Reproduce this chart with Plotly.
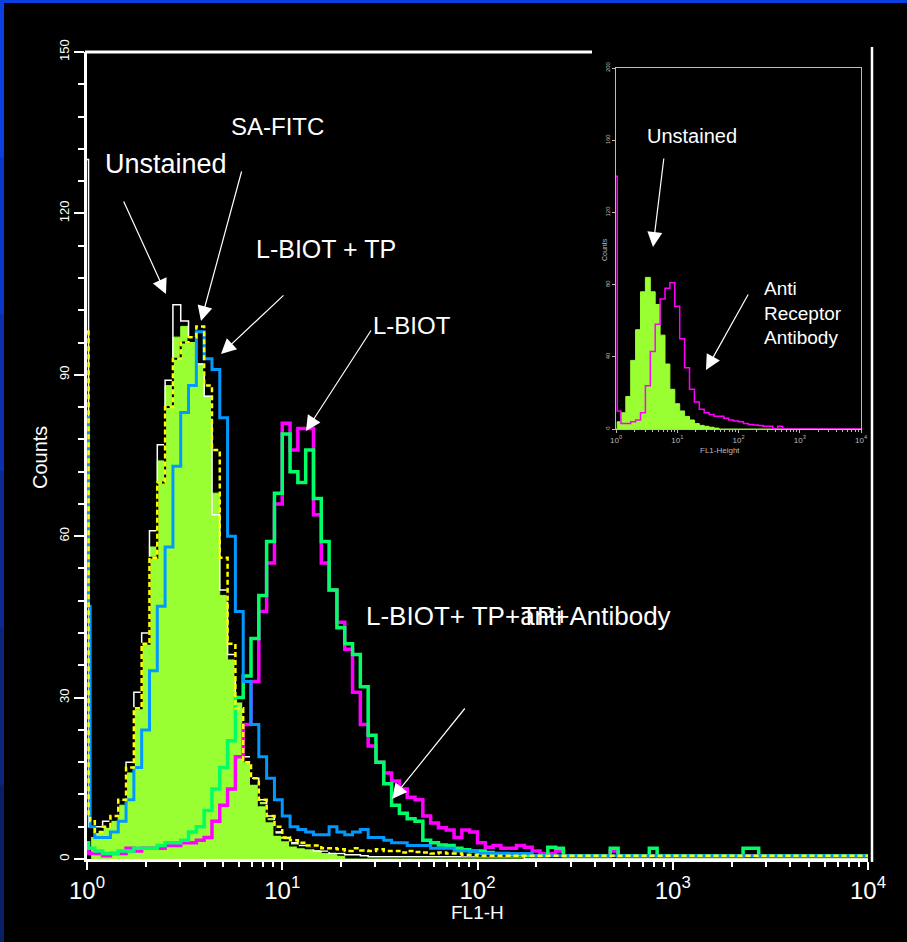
import plotly.graph_objects as go

# ---------------- DATA ----------------
# Main histogram channels, in log10(FL1-H): two narrow first channels, then 0.04-decade bins
MAIN_LOG_EDGES = [0.0, 0.008, 0.016] + [round(0.04 * k, 2) for k in range(1, 101)]

unstained = [0, 0,
    4, 5, 6, 7, 10, 16, 28, 40, 58, 74, 88, 97, 99, 96, 92, 86, 68, 49, 37, 29,
    18, 14, 10.5, 7.5, 5, 4, 3, 2.5, 2, 1.5, 1, 0.8, 0.5, 0, 0, 0, 0, 0, 0, 0,
    0, 0, 0, 0, 0, 0, 0, 0, 0, 0, 0, 0, 0, 0, 0, 0, 0, 0, 0, 0,
    0, 0, 0, 0, 0, 0, 0, 0, 0, 0, 0, 0, 0, 0, 0, 0, 0, 0, 0, 0,
    0, 0, 0, 0, 0, 0, 0, 0, 0, 0, 0, 0, 0, 0, 0, 0, 0, 0, 0, 0]

unstained_outline = [130, 6,
    6, 6, 7, 8, 11, 18, 31, 42, 61, 77, 89, 103, 100, 97, 92, 86, 64, 50, 38, 30,
    19, 15, 11, 8, 5, 4, 3, 2.5, 2, 1.5, 1.5, 1, 1, 0.8, 0.8, 0.6, 0.4, 0.4, 0.4, 0.4,
    0.4, 0.4, 0.4, 0.4, 0.4, 0.4, 0.4, 0.4, 0.4, 0.4, 0.4, 0.4, 0.4, 0.4, 0.4, 0.4, 0, 0, 0, 0,
    0, 0, 0, 0, 0, 0, 0, 0, 0, 0, 0, 0, 0, 0, 0, 0, 0, 0, 0, 0,
    0, 0, 0, 0, 0, 0, 0, 0, 0, 0, 0, 0, 0, 0, 0, 0, 0, 0, 0, 0]

sa_fitc = [98, 8,
    7, 5, 6, 8, 11, 17, 28, 40, 56, 70, 84, 93, 96, 97, 99, 88, 76, 56, 40, 28,
    18, 15, 11, 8, 6, 4, 3.5, 3, 2.5, 2.5, 2, 2, 1.8, 1.5, 2, 1.6, 1.5, 1.8, 1.5, 1.5,
    1.2, 1.5, 1.3, 1.2, 1, 1.2, 1, 1, 0.8, 0.8, 0.6, 0.6, 0.6, 0.6, 0.6, 0.6, 0.6, 0.6, 0.6, 0.6,
    0.6, 0.6, 0.6, 0.6, 0.6, 0.6, 0.6, 0.6, 0.6, 0.6, 0.6, 0.6, 0.6, 0.6, 0.6, 0.6, 0.6, 0.6, 0.6, 0.6,
    0.6, 0.6, 0.6, 0.6, 0.6, 0.6, 0.6, 0.6, 0.6, 0.6, 0.6, 0.6, 0.6, 0.6, 0.6, 0.6, 0.6, 0.6, 0.6, 0.6]

dark_control = [0, 0,
    6, 5, 6, 8, 11, 17, 28, 40, 56, 70, 84, 93, 96, 97, 96, 90, 82, 68, 48, 34,
    22, 14, 10, 7, 4.5, 3.5, 2.5, 2.2, 2, 2, 1.8, 1.5, 1.4, 1.3, 1.3, 1.2, 1.2, 1.2, 1.1, 1.1,
    1, 1, 1, 1, 0.9, 0.9, 0.8, 0.8, 0.7, 0.7, 0.6, 0.6, 0.6, 0.6, 0.6, 0.6, 0.6, 0.6, 0.6, 0.6,
    0.6, 0.6, 0.6, 0.6, 0.6, 0.6, 0.6, 0.6, 0.6, 0.6, 0.6, 0.6, 0.6, 0.6, 0.6, 0.6, 0.6, 0.6, 0.6, 0.6,
    0.6, 0.6, 0.6, 0.6, 0.6, 0.6, 0.6, 0.6, 0.6, 0.6, 0.6, 0.6, 0.6, 0.6, 0.6, 0.6, 0.6, 0.6, 0.6, 0.6]

lbiot_tp = [82, 47,
    6, 4, 4, 5, 7, 11, 17, 24, 35, 47, 58, 73, 83, 88, 98, 93, 91, 82, 60, 46,
    33, 25, 19, 15, 11, 8, 6, 5.5, 5, 4.5, 4.5, 6, 5, 4.5, 5, 5.5, 4, 4, 3.5, 3,
    3, 2.5, 2.5, 2.5, 2, 2, 2, 1.5, 1.5, 1.5, 1, 1, 1, 1, 1, 1, 1, 0.6, 0.6, 0.6,
    0.6, 0.6, 0.6, 0.6, 0.6, 0.6, 0.6, 0.6, 0.6, 0.6, 0.6, 0.6, 0.6, 0.6, 0.6, 0.6, 0.6, 0.6, 0.6, 0.6,
    0.6, 0.6, 0.6, 0.6, 0.6, 0.6, 0.6, 0.6, 0.6, 0.6, 0.6, 0.6, 0.6, 0.6, 0.6, 0.6, 0.6, 0.6, 0.6, 0.6]

lbiot = [2, 1,
    1, 1, 0.6, 1, 1, 2, 1.5, 2, 2, 2, 2.5, 2.5, 3, 3, 3.5, 4, 7, 10, 13, 19,
    25, 33, 46, 55, 66, 81, 76, 80, 80, 64, 55, 50, 44, 39, 31, 25, 21, 18, 16, 14.5,
    13, 11.5, 11, 8, 6.7, 5.8, 5.4, 4, 5.4, 5, 3, 2.2, 2.5, 2, 2, 2.5, 2.2, 1.5, 1, 1,
    1.5, 0.6, 0.6, 0.6, 0.6, 0.6, 0.6, 1.5, 0.6, 0.6, 0.6, 0.6, 0.6, 0.6, 0.6, 0.6, 0.6, 0.6, 0.6, 0.6,
    0.6, 0.6, 0.6, 0.6, 0.6, 0.6, 0.6, 0.6, 0.6, 0.6, 0.6, 0.6, 0.6, 0.6, 0.6, 0.6, 0.6, 0.6, 0.6, 0.6]

lbiot_tp_antibody = [3, 2,
    2, 1.5, 1, 1, 1.5, 1.5, 2, 2, 2, 2.5, 3, 3, 3.5, 5, 6, 9, 13, 17, 22, 30,
    34, 41, 49, 59, 68, 79, 72, 70, 76, 67, 59, 50, 43, 40, 38, 32, 23, 18, 14, 10,
    8.5, 7.5, 7, 3.5, 3, 2.6, 2.5, 2, 1.7, 1.5, 1.5, 1.2, 1, 1, 0.8, 0.8, 0.6, 0.6, 0.6, 2.2,
    2, 0.6, 0.6, 0.6, 0.6, 0.6, 0.6, 2, 0.6, 0.6, 0.6, 0.6, 2, 0.6, 0.6, 0.6, 0.6, 0.6, 0.6, 0.6,
    0.6, 0.6, 0.6, 0.6, 2, 2, 0.6, 0.6, 0.6, 0.6, 0.6, 0.6, 0.6, 0.6, 0.6, 0.6, 0.6, 0.6, 0.6, 0.6]

# Inset histogram channels: one narrow first channel, then 0.08-decade bins
INSET_LOG_EDGES = [0.0, 0.02] + [round(0.08 * k, 2) for k in range(1, 51)]

inset_unstained = [0,
    4, 9, 18, 38, 55, 76, 84, 76, 69, 52, 36, 22, 14, 10, 7, 5, 3, 2, 1.5, 1,
    0.5, 0, 0, 0, 0, 0, 0, 0, 0, 0, 0, 0, 0, 0, 0, 0, 0, 0, 0, 0,
    0, 0, 0, 0, 0, 0, 0, 0, 0, 0]

inset_anti_receptor = [140,
    10, 3, 3, 4, 5, 9, 24, 43, 58, 72, 78, 81, 68, 50, 34, 22, 15, 11, 9, 8,
    7, 7, 6, 5, 4.5, 4, 3, 2.5, 2.2, 2, 1.5, 1.5, 0, 1.5, 0, 0, 0, 0, 0, 0,
    0, 0, 0, 0, 0, 0, 0, 0, 0, 0]

MAIN_X_TICKS = [1, 10, 100, 1000, 10000]
MAIN_X_TICKTEXT = ["10<sup>0</sup>", "10<sup>1</sup>", "10<sup>2</sup>", "10<sup>3</sup>", "10<sup>4</sup>"]
MAIN_Y_TICKS = [0, 30, 60, 90, 120, 150]
INSET_Y_TICKS = [0, 40, 80, 120, 160, 200]

# ---------------- FIGURE ----------------
W, H = 907, 942
ML, MR, MT, MB = 87, 39, 52, 83
PW, PH = W - ML - MR, H - MT - MB


def xp(px):
    return (px - ML) / PW


def yp(py):
    return (H - MB - py) / PH


def steps(edges, vals):
    xs = [10 ** e for e in edges]
    ys = list(vals) + [vals[-1]]
    return xs, ys


LIME = "#99FF33"
fig = go.Figure()

x, y = steps(MAIN_LOG_EDGES, unstained)
fig.add_trace(go.Scatter(x=x, y=y, mode="lines", name="Unstained",
                         line=dict(shape="hv", color=LIME, width=1),
                         fill="tozeroy", fillcolor=LIME))
x, y = steps(MAIN_LOG_EDGES, unstained_outline)
fig.add_trace(go.Scatter(x=x, y=y, mode="lines", name="Unstained (outline)",
                         line=dict(shape="hv", color="#FFFFFF", width=1.5)))
x, y = steps(MAIN_LOG_EDGES, dark_control)
fig.add_trace(go.Scatter(x=x, y=y, mode="lines", name="control",
                         line=dict(shape="hv", color="#000000", width=2)))
x, y = steps(MAIN_LOG_EDGES, lbiot)
fig.add_trace(go.Scatter(x=x, y=y, mode="lines", name="L-BIOT",
                         line=dict(shape="hv", color="#FF00FF", width=3.5)))
x, y = steps(MAIN_LOG_EDGES, lbiot_tp_antibody)
fig.add_trace(go.Scatter(x=x, y=y, mode="lines", name="L-BIOT+TP+Antibody",
                         line=dict(shape="hv", color="#00FF66", width=3.5)))
x, y = steps(MAIN_LOG_EDGES, lbiot_tp)
fig.add_trace(go.Scatter(x=x, y=y, mode="lines", name="L-BIOT + TP",
                         line=dict(shape="hv", color="#0099FF", width=3)))
x, y = steps(MAIN_LOG_EDGES, sa_fitc)
fig.add_trace(go.Scatter(x=x, y=y, mode="lines", name="SA-FITC",
                         line=dict(shape="hv", color="#FFFF00", width=2.5, dash="5px,3px")))

# inset
x, y = steps(INSET_LOG_EDGES, inset_unstained)
fig.add_trace(go.Scatter(x=x, y=y, mode="lines", xaxis="x2", yaxis="y2", name="Unstained (inset)",
                         line=dict(shape="hv", color=LIME, width=1),
                         fill="tozeroy", fillcolor=LIME))
x, y = steps(INSET_LOG_EDGES, inset_anti_receptor)
fig.add_trace(go.Scatter(x=x, y=y, mode="lines", xaxis="x2", yaxis="y2", name="Anti Receptor Antibody",
                         line=dict(shape="hv", color="#FF00FF", width=1.5)))

NARROW = "Liberation Sans Narrow, Arial Narrow, Liberation Sans, sans-serif"
SANS = "Liberation Sans, Arial, sans-serif"

minor_x = [m * 10 ** d for d in range(4) for m in range(2, 10)]

fig.update_layout(
    width=W, height=H,
    margin=dict(l=ML, r=MR, t=MT, b=MB, pad=0),
    paper_bgcolor="#000000", plot_bgcolor="#000000",
    showlegend=False,
    xaxis=dict(type="log", range=[0, 4], tickvals=MAIN_X_TICKS, ticktext=MAIN_X_TICKTEXT,
               ticks="outside", ticklen=8, tickwidth=2, tickcolor="#FFFFFF",
               showline=True, linecolor="#FFFFFF", linewidth=2.5,
               showgrid=False, zeroline=False,
               tickfont=dict(family=NARROW, size=24, color="#FFFFFF"),
               minor=dict(tickvals=minor_x, ticks="outside", ticklen=5, tickwidth=1.5,
                          tickcolor="#FFFFFF", showgrid=False)),
    yaxis=dict(range=[0, 150], tickvals=MAIN_Y_TICKS,
               ticks="outside", ticklen=10, tickwidth=2, tickcolor="#FFFFFF",
               showline=True, linecolor="#FFFFFF", linewidth=2.5,
               showgrid=False, zeroline=False, tickangle=-90,
               tickfont=dict(family=NARROW, size=13, color="#FFFFFF"),
               minor=dict(dtick=6, ticks="outside", ticklen=6, tickwidth=1.5,
                          tickcolor="#FFFFFF", showgrid=False)),
    xaxis2=dict(type="log", range=[0, 4], domain=[xp(616), xp(861)], anchor="y2",
                tickvals=MAIN_X_TICKS, ticktext=MAIN_X_TICKTEXT,
                ticks="outside", ticklen=3, tickwidth=1, tickcolor="#BBBBBB",
                showline=True, mirror=True, linecolor="#BBBBBB", linewidth=1,
                showgrid=False, zeroline=False,
                tickfont=dict(family=NARROW, size=8, color="#BBBBBB"),
                minor=dict(tickvals=minor_x, ticks="outside", ticklen=2, tickwidth=1,
                           tickcolor="#BBBBBB", showgrid=False)),
    yaxis2=dict(range=[0, 200], domain=[yp(429), yp(68)], anchor="x2",
                tickvals=INSET_Y_TICKS,
                ticks="outside", ticklen=3, tickwidth=1, tickcolor="#BBBBBB",
                showline=True, mirror=True, linecolor="#BBBBBB", linewidth=1,
                showgrid=False, zeroline=False, tickangle=-90,
                tickfont=dict(family=NARROW, size=6, color="#BBBBBB")),
)

# frame lines and blue slide border
shapes = [
    dict(type="line", xref="paper", yref="paper", x0=xp(85), x1=xp(592), y0=yp(52), y1=yp(52),
         line=dict(color="#FFFFFF", width=3)),
    dict(type="line", xref="paper", yref="paper", x0=xp(872), x1=xp(872), y0=yp(862), y1=yp(47),
         line=dict(color="#FFFFFF", width=2.5)),
    dict(type="rect", xref="paper", yref="paper", x0=xp(0), x1=xp(907), y0=yp(0), y1=yp(3),
         fillcolor="#0B3FE0", line=dict(width=0)),
]
BORDER_BLUES = ["#0B3FE0", "#0B38C8", "#0B31AE", "#0B2A94", "#0B247C", "#0B1F66"]
seg = H / len(BORDER_BLUES)
for i, c in enumerate(BORDER_BLUES):
    shapes.append(dict(type="rect", xref="paper", yref="paper", x0=xp(0), x1=xp(4),
                       y0=yp(i * seg), y1=yp((i + 1) * seg), fillcolor=c, line=dict(width=0)))
fig.update_layout(shapes=shapes)


def label(text, cx, cy, size, xanchor="center", yanchor="middle", align="center", angle=0,
          color="#FFFFFF", family=SANS):
    return dict(text=text, xref="paper", yref="paper", x=xp(cx), y=yp(cy), showarrow=False,
                xanchor=xanchor, yanchor=yanchor, align=align, textangle=angle,
                font=dict(family=family, size=size, color=color))


def arrow(tip, tail):
    return dict(text="", xref="paper", yref="paper", x=xp(tip[0]), y=yp(tip[1]),
                axref="pixel", ayref="pixel", ax=tail[0] - tip[0], ay=tail[1] - tip[1],
                showarrow=True, arrowhead=2, arrowsize=2.5, arrowwidth=1.2,
                arrowcolor="#FFFFFF", standoff=0, startstandoff=0)


annotations = [
    label("Unstained", 166, 164, 27),
    label("SA-FITC", 277, 127, 24),
    label("L-BIOT + TP", 326, 249, 25),
    label("L-BIOT", 412, 325, 24),
    label("L-BIOT+ TP+anti", 364, 616, 26, xanchor="left"),
    label("TP+Antibody", 519, 616, 26, xanchor="left"),
    label("Counts", 40, 458, 20, angle=-90, family=NARROW),
    label("FL1-H", 478, 912, 19, family=NARROW),
    # inset texts
    label("Unstained", 692, 136, 20),
    label("Anti<br>Receptor<br>Antibody", 762, 276, 19, xanchor="left", yanchor="top", align="left"),
    label("Counts", 604, 250, 7, angle=-90, color="#BBBBBB", family=NARROW),
    label("FL1-Height", 720, 450, 8, color="#BBBBBB", family=NARROW),
    # arrows
    arrow((166, 294), (123, 200)),
    arrow((201, 321), (242, 170)),
    arrow((221, 354), (285, 294)),
    arrow((306, 431), (372, 329)),
    arrow((392, 799), (466, 707)),
    arrow((653, 247), (664, 157)),
    arrow((706, 370), (749, 293)),
]
fig.update_layout(annotations=annotations)

fig.write_html("out.html",
               config={"displayModeBar": False},
               post_script="document.body.style.margin='0';document.body.style.padding='0';"
                           "document.body.style.background='#000';"
                           "document.documentElement.style.overflow='hidden';")
